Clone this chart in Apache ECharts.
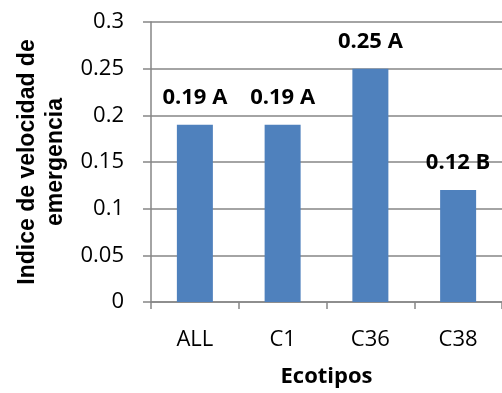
<!DOCTYPE html>
<html>
<head>
<meta charset="utf-8">
<script src="https://cdn.jsdelivr.net/npm/echarts@6/dist/echarts.min.js"></script>
<style>html,body{margin:0;padding:0;background:#fff;}#c{width:502px;height:393px;}</style>
</head>
<body>
<div id="c"></div>
<script>
var categories = ['ALL', 'C1', 'C36', 'C38'];
var values = [0.19, 0.19, 0.25, 0.12];
var letters = ['A', 'A', 'A', 'B'];
var yTicks = [0, 0.05, 0.1, 0.15, 0.2, 0.25, 0.3];

var chart = echarts.init(document.getElementById('c'), null, {renderer: 'canvas'});
var font = '"Open Sans", "Liberation Sans", sans-serif';
chart.setOption({
  animation: false,
  grid: {left: 151, right: -6, top: 22, bottom: 86},
  xAxis: {
    type: 'category',
    data: categories,
    axisLine: {lineStyle: {color: '#868686', width: 1.5}},
    axisTick: {show: true, length: 7, lineStyle: {color: '#868686', width: 1.5}},
    axisLabel: {color: '#000', fontSize: 22, fontFamily: font, margin: 27},
    name: 'Ecotipos',
    nameLocation: 'middle',
    nameGap: 64,
    nameTextStyle: {color: '#000', fontSize: 22, fontWeight: 'bold', fontFamily: font}
  },
  yAxis: {
    type: 'value',
    min: 0, max: 0.3, interval: 0.05,
    axisLine: {show: true, lineStyle: {color: '#868686', width: 1.5}},
    axisTick: {show: true, length: 8, lineStyle: {color: '#868686', width: 1.5}},
    splitLine: {lineStyle: {color: '#868686', width: 1.5}},
    axisLabel: {color: '#000', fontSize: 22, fontFamily: font, margin: 27,
      formatter: function (v) { return String(parseFloat(v.toFixed(2))); }},
    name: 'Indice de velocidad de\nemergencia',
    nameLocation: 'middle',
    nameGap: 81,
    nameRotate: 90,
    nameTextStyle: {color: '#000', fontSize: 23, fontWeight: 'bold', fontFamily: '"Liberation Sans", Arial, sans-serif', lineHeight: 28}
  },
  series: [{
    type: 'bar',
    data: values,
    barWidth: 36,
    itemStyle: {color: '#4F81BD'},
    label: {
      show: true,
      position: 'top',
      distance: 16,
      color: '#000',
      fontSize: 22,
      fontWeight: 'bold',
      fontFamily: font,
      formatter: function (p) { return p.value.toFixed(2) + ' ' + letters[p.dataIndex]; }
    }
  }]
});
</script>
</body>
</html>
